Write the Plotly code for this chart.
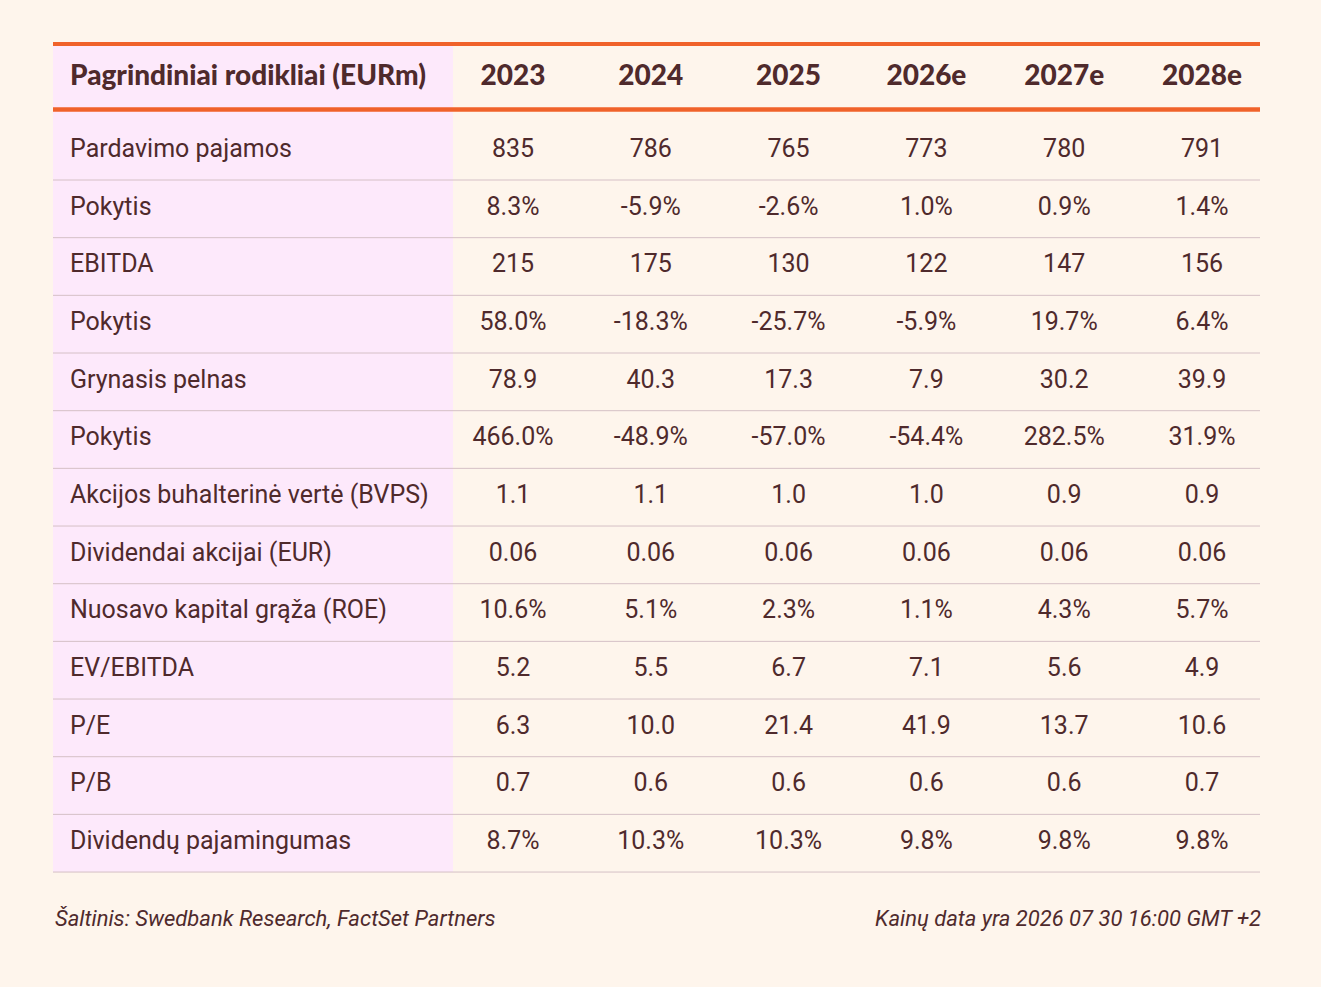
import plotly.graph_objects as go

# table content
years = ["2023", "2024", "2025", "2026e", "2027e", "2028e"]
metrics = [
    "Pardavimo pajamos", "Pokytis", "EBITDA", "Pokytis", "Grynasis pelnas",
    "Pokytis", "Akcijos buhalterinė vertė (BVPS)", "Dividendai akcijai (EUR)",
    "Nuosavo kapital grąža (ROE)", "EV/EBITDA", "P/E", "P/B",
    "Dividendų pajamingumas",
]
v2023 = ["835", "8.3%", "215", "58.0%", "78.9", "466.0%", "1.1", "0.06", "10.6%", "5.2", "6.3", "0.7", "8.7%"]
v2024 = ["786", "-5.9%", "175", "-18.3%", "40.3", "-48.9%", "1.1", "0.06", "5.1%", "5.5", "10.0", "0.6", "10.3%"]
v2025 = ["765", "-2.6%", "130", "-25.7%", "17.3", "-57.0%", "1.0", "0.06", "2.3%", "6.7", "21.4", "0.6", "10.3%"]
v2026e = ["773", "1.0%", "122", "-5.9%", "7.9", "-54.4%", "1.0", "0.06", "1.1%", "7.1", "41.9", "0.6", "9.8%"]
v2027e = ["780", "0.9%", "147", "19.7%", "30.2", "282.5%", "0.9", "0.06", "4.3%", "5.6", "13.7", "0.6", "9.8%"]
v2028e = ["791", "1.4%", "156", "6.4%", "39.9", "31.9%", "0.9", "0.06", "5.7%", "4.9", "10.6", "0.7", "9.8%"]
columns = [v2023, v2024, v2025, v2026e, v2027e, v2028e]
title = "Pagrindiniai rodikliai (EURm)"
source = "Šaltinis: Swedbank Research, FactSet Partners"
price_date = "Kainų data yra 2026 07 30 16:00 GMT +2"

W, H = 1321, 987
BG = "#FEF5EC"
PINK = "#FDE9FB"
ORANGE = "#F0622A"
INK = "#4F2A2C"
SEP = "#D5C0C6"

left, right = 53, 1260
label_right = 453
first_sep, row_h = 180, 57.67
col_x = [513 + 137.8 * i for i in range(len(years))]


def row_y(i):
    return first_sep + row_h * i - row_h / 2 - 0.5


fig = go.Figure()

# row labels
fig.add_trace(go.Scatter(
    x=[70] * len(metrics), y=[row_y(i) for i in range(len(metrics))],
    text=metrics, mode="text", textposition="middle right",
    textfont=dict(family="Roboto", size=25, color=INK),
    hoverinfo="skip", showlegend=False,
))

# values per year
for x, vals in zip(col_x, columns):
    fig.add_trace(go.Scatter(
        x=[x] * len(vals), y=[row_y(i) for i in range(len(vals))],
        text=vals, mode="text", textposition="middle center",
        textfont=dict(family="Roboto", size=25, color=INK),
        hoverinfo="skip", showlegend=False,
    ))

# header
head_font = dict(family="Lato", size=28, color=INK, weight=900)
fig.add_trace(go.Scatter(
    x=[70], y=[78], text=[title], mode="text", textposition="middle right",
    textfont=head_font, hoverinfo="skip", showlegend=False,
))
fig.add_trace(go.Scatter(
    x=col_x, y=[78] * len(years), text=years, mode="text",
    textposition="middle center",
    textfont=head_font, hoverinfo="skip", showlegend=False,
))

# row separators
sx, sy = [], []
for k in range(len(metrics)):
    yk = first_sep + row_h * k
    sx += [left, right, None]
    sy += [yk, yk, None]
fig.add_trace(go.Scatter(
    x=sx, y=sy, mode="lines", line=dict(color=SEP, width=1),
    hoverinfo="skip", showlegend=False,
))

shapes = [
    dict(type="rect", xref="x", yref="y", x0=left, x1=label_right, y0=46,
         y1=first_sep + row_h * (len(metrics) - 1), fillcolor=PINK,
         line_width=0, layer="below"),
    dict(type="line", xref="x", yref="y", x0=left, x1=right, y0=44, y1=44,
         line=dict(color=ORANGE, width=4)),
    dict(type="line", xref="x", yref="y", x0=left, x1=right, y0=109.5, y1=109.5,
         line=dict(color=ORANGE, width=4.5)),
]

foot_font = dict(family="Roboto", size=22, color=INK, style="italic")
annotations = [
    dict(x=left, y=918, xref="x", yref="y", text=source, showarrow=False,
         xanchor="left", yanchor="middle", font=foot_font),
    dict(x=1263, y=918, xref="x", yref="y", text=price_date, showarrow=False,
         xanchor="right", yanchor="middle", font=foot_font),
]

fig.update_layout(
    width=W, height=H, margin=dict(l=0, r=0, t=0, b=0),
    paper_bgcolor=BG, plot_bgcolor=BG,
    xaxis=dict(range=[0, W], visible=False, fixedrange=True),
    yaxis=dict(range=[H, 0], visible=False, fixedrange=True),
    shapes=shapes, annotations=annotations,
)

fig.write_html(
    "out.html", config={"displayModeBar": False},
    post_script="document.body.style.margin='0';"
                "document.body.style.overflow='hidden';"
                "document.body.style.background='" + BG + "';",
)
